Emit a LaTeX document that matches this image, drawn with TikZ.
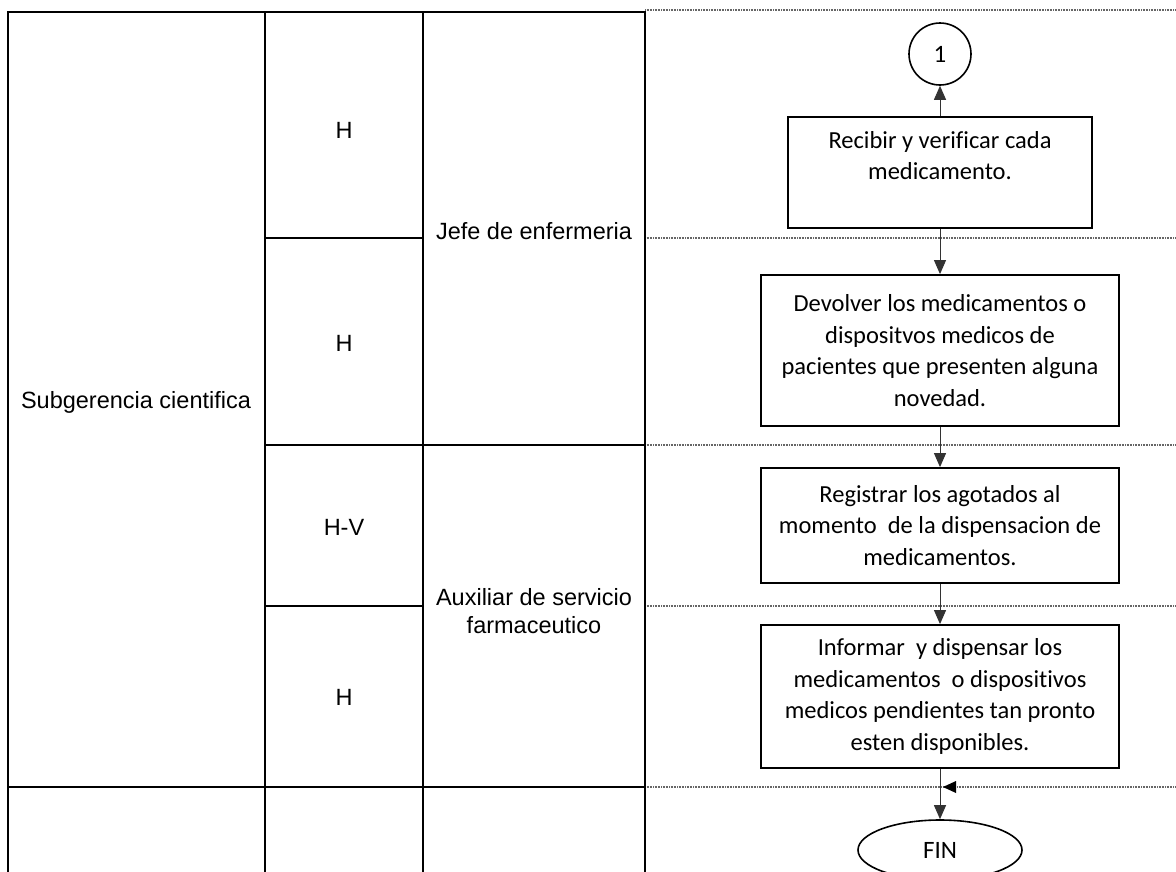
\documentclass[tikz,border=0pt]{standalone}
\usepackage{fontspec}
\setmainfont{Liberation Sans}
\newfontfamily\calfont[Ligatures=NoCommon]{Carlito}
\usetikzlibrary{arrows.meta,shapes.geometric}
\begin{document}
\begin{tikzpicture}[x=1pt,y=-1pt,
  gridline/.style={line width=2pt, black},
  lane/.style={line width=2pt, black!60, dash pattern=on 1pt off 0.6pt},
  lab/.style={font=\fontsize{23.5}{28}\selectfont, align=center, inner sep=0},
  proc/.style={draw, line width=1.8pt, font=\calfont\fontsize{24.5}{31.5}\selectfont, align=center, inner sep=0},
  term/.style={draw, inner sep=0, line width=1.6pt, font=\calfont\fontsize{25}{27}\selectfont},
  flow/.style={line width=1pt, black!80, -{Triangle[width=12pt,length=14pt]}},
]
\useasboundingbox (0,0) rectangle (1176,871);
\clip (0,0) rectangle (1176,871);
\fill[white] (0,0) rectangle (1176,871);

% swimlane separators (dotted)
\foreach \yy in {10,238,445,606,787}
  \draw[lane] (645,\yy) -- (1176,\yy);

% table grid
\draw[gridline] (8,880) -- (8,12) -- (645,12) -- (645,880);
\draw[gridline] (265,12) -- (265,880);
\draw[gridline] (423,12) -- (423,880);
\draw[gridline] (265,238) -- (423,238);
\draw[gridline] (265,445) -- (645,445);
\draw[gridline] (265,606) -- (423,606);
\draw[gridline] (8,787) -- (645,787);

% table texts
\node[lab] (area) at (136,402) {Subgerencia cientifica};
\node[lab] (h1) at (344,130) {H};
\node[lab] (h2) at (344,343) {H};
\node[lab] (h3) at (344,527) {H-V};
\node[lab] (h4) at (344,697) {H};
\node[lab] (r1) at (534,231) {Jefe de enfermeria};
\node[lab] (r2) at (534,611) {Auxiliar de servicio\\farmaceutico};

% flow shapes
\node[term, circle, minimum size=62] (c1) at (940,54) {1};
\node[proc, minimum width=304, minimum height=111,
  label={[anchor=north, yshift=-12, font=\calfont\fontsize{24.5}{30.5}\selectfont, align=center]north:Recibir y verificar cada\\medicamento.}] (b1) at (940,172.5) {};
\node[proc, minimum width=358, minimum height=151] (b2) at (940,350.5)
  {Devolver los medicamentos o\\dispositvos medicos de\\pacientes que presenten alguna\\novedad.};
\node[proc, minimum width=358, minimum height=115] (b3) at (940,525.5)
  {Registrar los agotados al\\momento\ \ de la dispensacion de\\medicamentos.};
\node[proc, minimum width=358, minimum height=143] (b4) at (940,696.5)
  {Informar\ \ y dispensar los\\medicamentos\ \ o dispositivos\\medicos pendientes tan pronto\\esten disponibles.};
\node[term, ellipse, minimum width=164, minimum height=60] (fin) at (940,850) {FIN};

% connectors
\draw[flow] (b1.north) -- (c1.south);
\draw[flow] (b1.south) -- (b2.north);
\draw[flow] (b2.south) -- (b3.north);
\draw[flow] (b3.south) -- (b4.north);
\draw[flow] (b4.south) -- (fin.north);
\fill (943,787) -- (956,781) -- (956,793) -- cycle;
\end{tikzpicture}
\end{document}
